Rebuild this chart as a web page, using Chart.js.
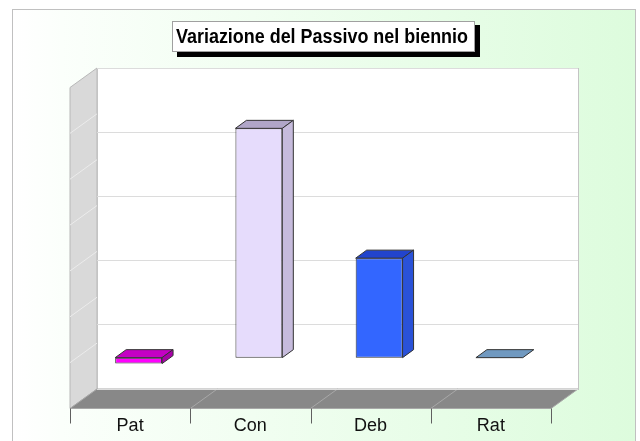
<!DOCTYPE html>
<html>
<head>
<meta charset="utf-8">
<script src="https://cdn.jsdelivr.net/npm/chart.js@4.4.1/dist/chart.umd.min.js"></script>
<style>
body { margin: 0; background: #fff; }
</style>
</head>
<body>
<canvas id="myChart" width="640" height="441"></canvas>
<script>
// dati del grafico
var titolo = "Variazione del Passivo nel biennio";
var categorie = ["Pat", "Con", "Deb", "Rat"];
var valori = [-130, 5000, 2170, 0];
var coloriFronte = ['#ff00ff', '#e6dcfc', '#3366ff', '#6699cc'];
var coloriSopra = ['#c400c4', '#b0a6c8', '#2244cc', '#7099c0'];
var coloriLato = ['#a800a8', '#c6bbdc', '#2a52d8', '#5a85b0'];
var asseMin = -1000;
var asseMax = 6000;
var passoAsse = 1000;     // linee sul muro sinistro
var passoGriglia = 1400;  // griglia sul muro di fondo

// finto 3D: spostamenti in pixel
var fronte = { dx: -18.5, dy: 14.5 }; // faccia frontale delle barre rispetto al fondo
var prof = { dx: 11, dy: -8 };        // profondita' delle barre
var muro = { dx: -27, dy: 19.5 };     // profondita' del pavimento / muro sinistro

var finto3d = {
    id: 'finto3d',
    beforeDraw: function (chart) {
        var ctx = chart.ctx;
        var a = chart.chartArea;
        var y = chart.scales.y;
        var x = chart.scales.x;
        ctx.save();

        // sfondo con bordo
        ctx.fillStyle = '#ffffff';
        ctx.fillRect(0, 0, chart.width, chart.height);
        var g = ctx.createLinearGradient(12, 0, 635, 0);
        g.addColorStop(0, '#ffffff');
        g.addColorStop(0.08, '#fbfffb');
        g.addColorStop(1, '#ddfcdd');
        ctx.fillStyle = g;
        ctx.fillRect(12, 9, 623, chart.height);
        ctx.strokeStyle = '#c0c0c0';
        ctx.lineWidth = 1;
        ctx.strokeRect(12.5, 9.5, 623, chart.height + 5);

        // titolo con ombra
        ctx.fillStyle = '#000000';
        ctx.fillRect(177, 25, 303, 32);
        ctx.fillStyle = '#ffffff';
        ctx.fillRect(172, 21, 303, 31);
        ctx.strokeStyle = '#a0a0a0';
        ctx.strokeRect(172.5, 21.5, 302, 30);
        ctx.fillStyle = '#000000';
        ctx.font = "bold 19.5px 'Liberation Sans', Arial, sans-serif";
        ctx.textAlign = 'center';
        ctx.textBaseline = 'alphabetic';
        var w = ctx.measureText(titolo).width;
        ctx.save();
        ctx.translate(322, 43);
        ctx.scale(292 / w, 1);
        ctx.fillText(titolo, 0, 0);
        ctx.restore();

        // muro sinistro
        ctx.beginPath();
        ctx.moveTo(a.left, a.top);
        ctx.lineTo(a.left + muro.dx, a.top + muro.dy);
        ctx.lineTo(a.left + muro.dx, a.bottom + muro.dy);
        ctx.lineTo(a.left, a.bottom);
        ctx.closePath();
        ctx.fillStyle = '#d9d9d9';
        ctx.fill();
        ctx.strokeStyle = '#b8b8b8';
        ctx.stroke();
        ctx.strokeStyle = '#ececec';
        y.ticks.forEach(function (t) {
            var py = y.getPixelForValue(t.value);
            if (py <= a.top + 1 || py >= a.bottom - 1) return;
            ctx.beginPath();
            ctx.moveTo(a.left, py);
            ctx.lineTo(a.left + muro.dx, py + muro.dy);
            ctx.stroke();
        });

        // muro di fondo
        ctx.fillStyle = '#ffffff';
        ctx.fillRect(a.left, a.top, a.right - a.left, a.bottom - a.top);
        ctx.strokeStyle = '#c4c4c4';
        ctx.strokeRect(a.left + 0.5, a.top + 0.5, a.right - a.left, a.bottom - a.top);

        // pavimento
        ctx.beginPath();
        ctx.moveTo(a.left, a.bottom);
        ctx.lineTo(a.right, a.bottom);
        ctx.lineTo(a.right + muro.dx, a.bottom + muro.dy);
        ctx.lineTo(a.left + muro.dx, a.bottom + muro.dy);
        ctx.closePath();
        ctx.fillStyle = '#888888';
        ctx.fill();
        ctx.strokeStyle = '#a8a8a8';
        ctx.stroke();
        for (var k = 1; k < categorie.length; k++) {
            var px = x.getPixelForValue(k - 0.5);
            ctx.beginPath();
            ctx.moveTo(px, a.bottom);
            ctx.lineTo(px + muro.dx, a.bottom + muro.dy);
            ctx.stroke();
        }

        // tacche e etichette dell'asse categorie
        ctx.strokeStyle = '#606060';
        for (var k = 0; k <= categorie.length; k++) {
            var tx = Math.round(x.getPixelForValue(k - 0.5) + muro.dx) + 0.5;
            ctx.beginPath();
            ctx.moveTo(tx, a.bottom + muro.dy);
            ctx.lineTo(tx, a.bottom + muro.dy + 15);
            ctx.stroke();
        }
        ctx.fillStyle = '#111111';
        ctx.font = "18px 'Liberation Sans', Arial, sans-serif";
        categorie.forEach(function (c, i) {
            ctx.fillText(c, x.getPixelForValue(i) + muro.dx, 431);
        });
        ctx.restore();
    },
    beforeDatasetsDraw: function (chart) {
        chart.ctx.save();
        chart.ctx.translate(fronte.dx, fronte.dy);
    },
    afterDatasetsDraw: function (chart) {
        var ctx = chart.ctx;
        var meta = chart.getDatasetMeta(0);
        ctx.lineWidth = 1;
        ctx.strokeStyle = '#333333';
        meta.data.forEach(function (el, i) {
            var p = el.getProps(['x', 'y', 'base', 'width'], true);
            var l = p.x - p.width / 2, r = p.x + p.width / 2;
            var alto = Math.min(p.y, p.base), basso = Math.max(p.y, p.base);
            // faccia superiore
            ctx.beginPath();
            ctx.moveTo(l, alto);
            ctx.lineTo(l + prof.dx, alto + prof.dy);
            ctx.lineTo(r + prof.dx, alto + prof.dy);
            ctx.lineTo(r, alto);
            ctx.closePath();
            ctx.fillStyle = coloriSopra[i];
            ctx.fill();
            ctx.stroke();
            // faccia laterale
            if (basso - alto > 0.5) {
                ctx.beginPath();
                ctx.moveTo(r, alto);
                ctx.lineTo(r + prof.dx, alto + prof.dy);
                ctx.lineTo(r + prof.dx, basso + prof.dy);
                ctx.lineTo(r, basso);
                ctx.closePath();
                ctx.fillStyle = coloriLato[i];
                ctx.fill();
                ctx.stroke();
            }
        });
        ctx.restore();
    }
};

var ctx = document.getElementById('myChart').getContext('2d');
var chart = new Chart(ctx, {
    type: 'bar',
    data: {
        labels: categorie,
        datasets: [{
            data: valori,
            backgroundColor: coloriFronte,
            borderColor: '#333333',
            borderWidth: 1,
            borderSkipped: false,
            barPercentage: 0.39,
            categoryPercentage: 1
        }]
    },
    options: {
        responsive: false,
        animation: false,
        devicePixelRatio: 1,
        layout: { padding: { left: 97, top: 68, right: 62, bottom: 52 } },
        plugins: {
            legend: { display: false },
            tooltip: { enabled: false },
            title: { display: false }
        },
        scales: {
            x: { display: false },
            y: {
                display: false,
                min: asseMin,
                max: asseMax,
                ticks: { stepSize: passoAsse }
            },
            yGriglia: {
                position: 'left',
                min: asseMin,
                max: asseMax,
                ticks: { display: false, stepSize: passoGriglia },
                border: { display: false },
                grid: { color: '#dcdcdc', drawTicks: false }
            }
        }
    },
    plugins: [finto3d]
});
</script>
</body>
</html>
